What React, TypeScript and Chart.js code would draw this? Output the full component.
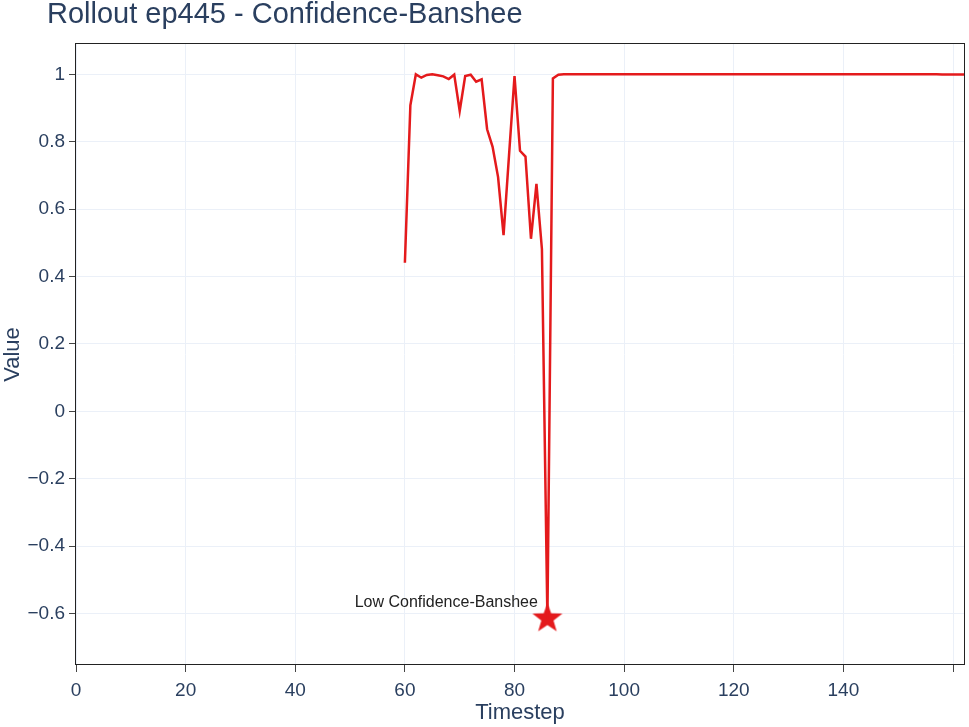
import React, { useEffect, useRef } from "react";
import { Chart, registerables } from "chart.js";

Chart.register(...registerables);

const TITLE = "Rollout ep445 - Confidence-Banshee";
const X_TITLE = "Timestep";
const Y_TITLE = "Value";

const TIMESTEPS = [
  60, 61, 62, 63, 64, 65, 66, 67, 68, 69,
  70, 71, 72, 73, 74, 75, 76, 77, 78, 79,
  80, 81, 82, 83, 84, 85, 86, 87, 88, 89,
  90, 91, 92, 93, 94, 95, 96, 97, 98, 99,
  100, 101, 102, 103, 104, 105, 106, 107, 108, 109,
  110, 111, 112, 113, 114, 115, 116, 117, 118, 119,
  120, 121, 122, 123, 124, 125, 126, 127, 128, 129,
  130, 131, 132, 133, 134, 135, 136, 137, 138, 139,
  140, 141, 142, 143, 144, 145, 146, 147, 148, 149,
  150, 151, 152, 153, 154, 155, 156, 157, 158, 159,
  160, 161, 162,
];

const VALUES = [
  0.441, 0.908, 1.0, 0.99, 0.998, 1.0, 0.997, 0.994, 0.986, 0.999,
  0.891, 0.995, 0.999, 0.978, 0.985, 0.837, 0.785, 0.695, 0.523, 0.76,
  0.995, 0.773, 0.756, 0.512, 0.675, 0.481, -0.615, 0.988, 0.999, 1.0,
  1.0, 1.0, 1.0, 1.0, 1.0, 1.0, 1.0, 1.0, 1.0, 1.0,
  1.0, 1.0, 1.0, 1.0, 1.0, 1.0, 1.0, 1.0, 1.0, 1.0,
  1.0, 1.0, 1.0, 1.0, 1.0, 1.0, 1.0, 1.0, 1.0, 1.0,
  1.0, 1.0, 1.0, 1.0, 1.0, 1.0, 1.0, 1.0, 1.0, 1.0,
  1.0, 1.0, 1.0, 1.0, 1.0, 1.0, 1.0, 1.0, 1.0, 1.0,
  1.0, 1.0, 1.0, 1.0, 1.0, 1.0, 1.0, 1.0, 1.0, 1.0,
  1.0, 1.0, 1.0, 1.0, 1.0, 1.0, 1.0, 1.0, 0.9995, 0.9995,
  0.9995, 0.9995, 0.9995,
];

const MARKER_X = [86];
const MARKER_Y = [-0.615];
const MARKER_LABEL = "Low Confidence-Banshee";

const X_TICKS = [0, 20, 40, 60, 80, 100, 120, 140, 160];
const X_TICK_LABELS = ["0", "20", "40", "60", "80", "100", "120", "140", ""];
const Y_TICKS = [-0.6, -0.4, -0.2, 0, 0.2, 0.4, 0.6, 0.8, 1];
const Y_TICK_LABELS = ["\u22120.6", "\u22120.4", "\u22120.2", "0", "0.2", "0.4", "0.6", "0.8", "1"];
const X_RANGE = [0, 162];
const Y_RANGE = [-0.753, 1.09];

const RED = "#e41a1c";
const TEXT = "#2a3f5f";
const GRID = "#ebf0f8";
const FONT = "'Liberation Sans', Arial, sans-serif";

function labelFor(ticks: number[], labels: string[], v: number) {
  const i = ticks.findIndex((t) => Math.abs(t - v) < 1e-9);
  return i >= 0 ? labels[i] : "";
}

function makeStar(): HTMLCanvasElement {
  const c = document.createElement("canvas");
  c.width = 34;
  c.height = 34;
  const g = c.getContext("2d")!;
  g.fillStyle = RED;
  g.beginPath();
  for (let i = 0; i < 10; i++) {
    const r = i % 2 === 0 ? 15.8 : 6.4;
    const a = -Math.PI / 2 + (i * Math.PI) / 5;
    const px = 17 + r * Math.cos(a);
    const py = 17 + r * Math.sin(a);
    if (i === 0) g.moveTo(px, py);
    else g.lineTo(px, py);
  }
  g.closePath();
  g.fill();
  return c;
}

const decor = {
  id: "decor",
  afterDatasetsDraw(chart: any) {
    const { ctx, chartArea, scales } = chart;
    const { left, top, right, bottom } = chartArea;
    ctx.save();
    // frame
    ctx.strokeStyle = "#222";
    ctx.lineWidth = 1;
    ctx.strokeRect(Math.round(left) - 0.5, Math.round(top) - 0.5, Math.round(right - left) + 1, Math.round(bottom - top));
    // annotation
    const px = scales.x.getPixelForValue(MARKER_X[0]);
    const py = scales.y.getPixelForValue(MARKER_Y[0]);
    ctx.fillStyle = "#222";
    ctx.font = `16px ${FONT}`;
    ctx.textAlign = "right";
    ctx.textBaseline = "middle";
    ctx.fillText(MARKER_LABEL, px - 9.5, py - 16);
    // title
    ctx.fillStyle = TEXT;
    ctx.font = `29px ${FONT}`;
    ctx.textAlign = "left";
    ctx.textBaseline = "alphabetic";
    ctx.fillText(TITLE, 47, 23);
    ctx.restore();
  },
};

export default function App() {
  const ref = useRef<HTMLCanvasElement>(null);

  useEffect(() => {
    if (!ref.current) return;
    const star = makeStar();
    const lineData = TIMESTEPS.map((t, i) => ({ x: t, y: VALUES[i] }));
    const markerData = MARKER_X.map((t, i) => ({ x: t, y: MARKER_Y[i] }));

    const chart = new Chart(ref.current, {
      type: "line",
      data: {
        datasets: [
          {
            data: lineData,
            borderColor: RED,
            backgroundColor: RED,
            borderWidth: 2.5,
            pointRadius: 0,
            tension: 0,
            fill: false,
          },
          {
            data: markerData,
            showLine: false,
            pointStyle: star as any,
            pointRadius: 16,
            borderColor: RED,
            backgroundColor: RED,
          },
        ],
      },
      options: {
        animation: false,
        responsive: false,
        devicePixelRatio: 1,
        layout: { autoPadding: false, padding: { top: 44, right: 5, left: 0, bottom: 0 } },
        plugins: {
          legend: { display: false },
          tooltip: { enabled: false },
          title: { display: false },
        },
        scales: {
          x: {
            type: "linear",
            min: X_RANGE[0],
            max: X_RANGE[1],
            afterBuildTicks: (s: any) => {
              s.ticks = X_TICKS.map((v) => ({ value: v }));
            },
            afterFit: (s: any) => {
              s.height = 62;
              s.paddingLeft = 0;
              s.paddingRight = 0;
            },
            grid: { color: GRID, lineWidth: 1, drawTicks: true, tickLength: 7, tickColor: "#444", tickWidth: 1 },
            border: { display: false },
            ticks: {
              color: TEXT,
              font: { family: FONT, size: 19 },
              padding: 7,
              maxRotation: 0,
              autoSkip: false,
              callback: (v: any) => labelFor(X_TICKS, X_TICK_LABELS, Number(v)),
            },
            title: { display: true, text: X_TITLE, color: TEXT, font: { family: FONT, size: 22 }, padding: { top: 0, bottom: 1 } },
          },
          y: {
            type: "linear",
            min: Y_RANGE[0],
            max: Y_RANGE[1],
            afterBuildTicks: (s: any) => {
              s.ticks = Y_TICKS.map((v) => ({ value: v }));
            },
            afterFit: (s: any) => {
              s.width = 76;
              s.paddingTop = 0;
              s.paddingBottom = 0;
            },
            grid: { color: GRID, lineWidth: 1, drawTicks: true, tickLength: 7, tickColor: "#444", tickWidth: 1 },
            border: { display: false },
            ticks: {
              color: TEXT,
              font: { family: FONT, size: 19 },
              padding: 4,
              autoSkip: false,
              callback: (v: any) => labelFor(Y_TICKS, Y_TICK_LABELS, Number(v)),
            },
            title: { display: true, text: Y_TITLE, color: TEXT, font: { family: FONT, size: 22 }, padding: { top: 0, bottom: 0 } },
          },
        },
      } as any,
      plugins: [decor],
    });
    return () => chart.destroy();
  }, []);

  return (
    <div style={{ position: "fixed", left: 0, top: 0, width: 969, height: 727, background: "#fff" }}>
      <canvas ref={ref} width={969} height={727} style={{ display: "block" }} />
    </div>
  );
}
